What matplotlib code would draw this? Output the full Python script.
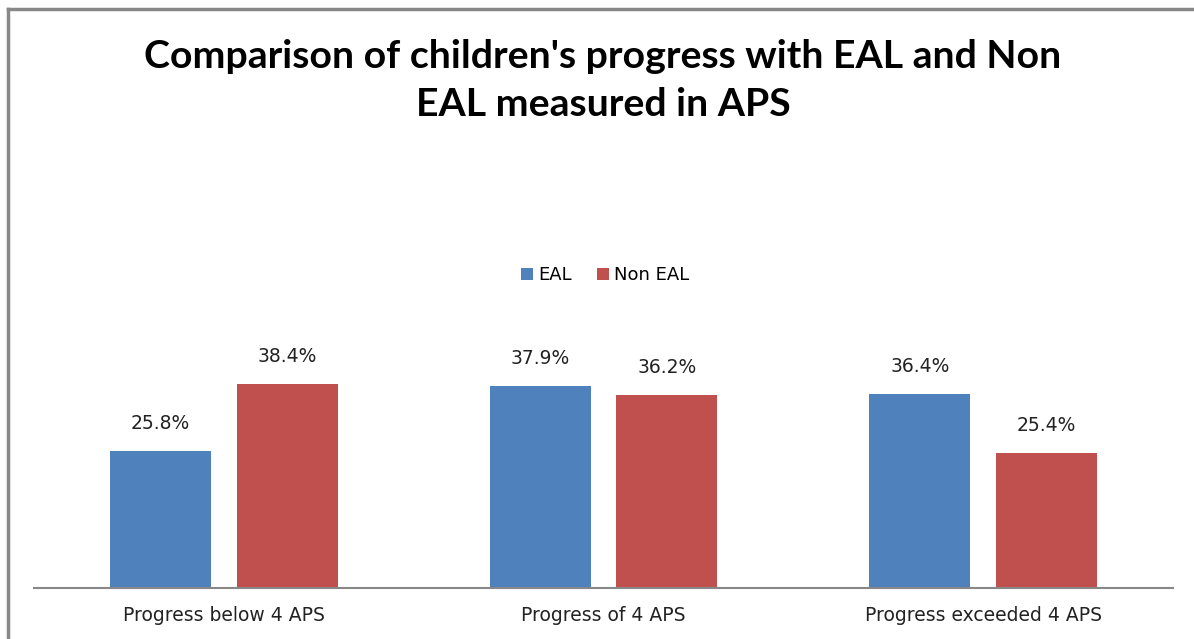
import matplotlib.pyplot as plt
from matplotlib.lines import Line2D
import numpy as np

categories = ['Progress below 4 APS', 'Progress of 4 APS', 'Progress exceeded 4 APS']
eal = [25.8, 37.9, 36.4]
non_eal = [38.4, 36.2, 25.4]
series_names = ['EAL', 'Non EAL']

plt.rcParams['font.family'] = ['DejaVu Sans']

blue = '#4F81BD'
red = '#C0504D'

fig = plt.figure(figsize=(11.94, 6.39), dpi=100)
ax = fig.add_axes([34 / 1194, 51 / 639, 1139 / 1194, 266 / 639])

x = np.arange(len(categories))
w = 0.266
off = 0.167
b1 = ax.bar(x - off, eal, w, color=blue, label=series_names[0])
b2 = ax.bar(x + off, non_eal, w, color=red, label=series_names[1])

for bars, vals in ((b1, eal), (b2, non_eal)):
  for rect, v in zip(bars, vals):
    ax.annotate(f'{v}%', (rect.get_x() + rect.get_width() / 2, v),
                xytext=(0, 13), textcoords='offset points',
                ha='center', va='bottom', fontsize=13.5, color='#222222')

ax.set_xlim(-0.5, 2.5)
ax.set_ylim(0, 50)
ax.set_xticks(x)
ax.set_xticklabels(categories, fontsize=13.5, color='#222222')
ax.tick_params(axis='x', length=0, pad=13)
ax.set_yticks([])
for s in ['top', 'right', 'left']:
  ax.spines[s].set_visible(False)
ax.spines['bottom'].set_color('#888888')
ax.spines['bottom'].set_linewidth(1.5)

ax.legend(loc='center', bbox_to_anchor=(605 / 1194, 1 - 275 / 639),
          bbox_transform=fig.transFigure, ncol=2, frameon=False,
          fontsize=13, handlelength=0.65, handleheight=0.65,
          handletextpad=0.3, columnspacing=1.4)

fig.text(0.505, 1 - 57 / 639, "Comparison of children's progress with EAL and Non",
         ha='center', va='center', fontsize=28.3, fontweight='bold', family='Lato')
fig.text(0.505, 1 - 105 / 639, 'EAL measured in APS',
         ha='center', va='center', fontsize=28.3, fontweight='bold', family='Lato')

# chart border (cut off at right and bottom)
fig.add_artist(Line2D([8 / 1194, 1.01], [1 - 9 / 639, 1 - 9 / 639],
                      transform=fig.transFigure, color='#888888', lw=2.5))
fig.add_artist(Line2D([8 / 1194, 8 / 1194], [1 - 9 / 639, -0.01],
                      transform=fig.transFigure, color='#888888', lw=2.5))

fig.savefig('out.png', dpi=100)
